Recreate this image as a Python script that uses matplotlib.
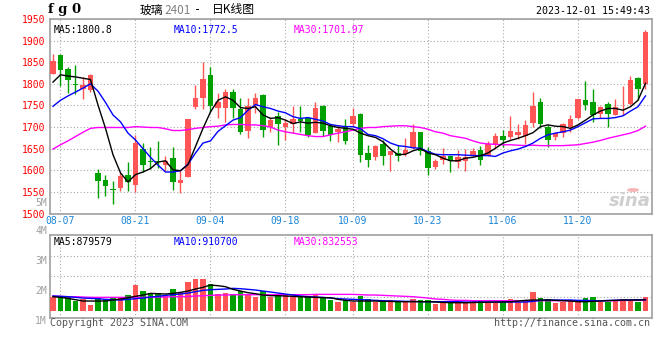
import numpy as np
import matplotlib
matplotlib.use('Agg')
import matplotlib.pyplot as plt
from matplotlib.patches import Circle

# daily candles, FG2401, 2023-08-04 .. 2023-12-01
open_ = [1823, 1867, 1835, 1800, 1789, 1785, 1594, 1577, 1557, 1558,
         1588, 1567, 1649, 1622, 1621, 1613, 1628, 1571, 1585, 1747,
         1768, 1821, 1743, 1743, 1780, 1741, 1691, 1752, 1775, 1699,
         1726, 1699, 1706, 1718, 1722, 1687, 1749, 1703, 1688, 1699,
         1708, 1731, 1640, 1630, 1660, 1636, 1640, 1638, 1651, 1688,
         1645, 1608, 1624, 1634, 1620, 1622, 1634, 1646, 1634, 1660,
         1680, 1676, 1682, 1680, 1709, 1757, 1701, 1676, 1686, 1699,
         1722, 1762, 1757, 1731, 1754, 1729, 1743, 1754, 1814, 1800]
close = [1852, 1831, 1808, 1797, 1797, 1820, 1575, 1563, 1554, 1586,
         1573, 1663, 1613, 1618, 1618, 1622, 1572, 1578, 1718, 1768,
         1812, 1748, 1757, 1781, 1743, 1688, 1749, 1768, 1693, 1716,
         1706, 1709, 1718, 1714, 1682, 1743, 1691, 1682, 1695, 1668,
         1725, 1636, 1624, 1657, 1634, 1644, 1632, 1646, 1689, 1644,
         1605, 1622, 1634, 1622, 1631, 1630, 1645, 1624, 1661, 1680,
         1670, 1691, 1689, 1705, 1749, 1706, 1670, 1686, 1706, 1718,
         1764, 1751, 1728, 1747, 1731, 1747, 1745, 1808, 1787, 1921]
high = [1868, 1868, 1840, 1844, 1816, 1823, 1603, 1590, 1575, 1594,
        1620, 1682, 1664, 1655, 1668, 1634, 1653, 1598, 1718, 1798,
        1850, 1839, 1778, 1787, 1787, 1768, 1768, 1778, 1776, 1724,
        1734, 1719, 1749, 1749, 1724, 1757, 1750, 1705, 1705, 1718,
        1745, 1732, 1659, 1659, 1670, 1645, 1659, 1674, 1706, 1688,
        1653, 1627, 1651, 1636, 1647, 1649, 1651, 1657, 1667, 1686,
        1693, 1725, 1706, 1716, 1780, 1768, 1705, 1689, 1709, 1728,
        1766, 1806, 1787, 1749, 1757, 1766, 1794, 1818, 1816, 1925]
low = [1822, 1794, 1778, 1776, 1764, 1780, 1536, 1540, 1523, 1553,
       1553, 1549, 1597, 1603, 1605, 1598, 1554, 1548, 1584, 1741,
       1741, 1735, 1722, 1712, 1722, 1683, 1674, 1732, 1678, 1688,
       1659, 1670, 1686, 1689, 1676, 1686, 1680, 1668, 1666, 1661,
       1701, 1619, 1608, 1623, 1613, 1598, 1621, 1632, 1650, 1636,
       1590, 1603, 1615, 1596, 1605, 1599, 1632, 1613, 1634, 1649,
       1655, 1673, 1673, 1660, 1701, 1697, 1655, 1670, 1676, 1689,
       1718, 1739, 1711, 1720, 1701, 1728, 1728, 1751, 1762, 1789]

ma5 = [1804, 1821, 1818, 1816, 1813, 1810, 1751, 1697, 1636, 1594,
       1573, 1590, 1596, 1604, 1619, 1622, 1601, 1599, 1613, 1655,
       1697, 1735, 1762, 1770, 1762, 1745, 1743, 1747, 1728, 1720,
       1722, 1716, 1708, 1712, 1709, 1711, 1709, 1703, 1699, 1697,
       1695, 1686, 1680, 1676, 1666, 1649, 1636, 1637, 1645, 1650,
       1640, 1636, 1628, 1622, 1622, 1628, 1630, 1634, 1640, 1651,
       1663, 1669, 1674, 1680, 1687, 1701, 1705, 1702, 1701, 1697,
       1705, 1716, 1728, 1737, 1743, 1743, 1739, 1747, 1762, 1801]
ma10 = [1748, 1762, 1772, 1781, 1790, 1800, 1783, 1757, 1728, 1712,
        1686, 1670, 1650, 1630, 1612, 1596, 1596, 1599, 1614, 1640,
        1663, 1668, 1690, 1703, 1716, 1722, 1739, 1752, 1747, 1743,
        1737, 1733, 1724, 1720, 1722, 1718, 1714, 1706, 1703, 1701,
        1701, 1696, 1683, 1680, 1673, 1663, 1657, 1655, 1652, 1651,
        1643, 1637, 1636, 1636, 1636, 1635, 1634, 1634, 1634, 1632,
        1640, 1645, 1649, 1655, 1663, 1674, 1682, 1686, 1689, 1693,
        1701, 1710, 1719, 1720, 1720, 1722, 1726, 1737, 1747, 1772]
ma30 = [1649, 1659, 1668, 1678, 1688, 1697, 1699, 1699, 1699, 1699,
        1699, 1701, 1700, 1699, 1699, 1696, 1692, 1692, 1694, 1697,
        1699, 1701, 1702, 1705, 1706, 1706, 1705, 1705, 1703, 1700,
        1693, 1689, 1686, 1683, 1680, 1678, 1678, 1682, 1686, 1689,
        1693, 1697, 1699, 1699, 1701, 1702, 1703, 1703, 1701, 1699,
        1695, 1689, 1686, 1680, 1677, 1674, 1668, 1663, 1661, 1660,
        1659, 1659, 1658, 1657, 1658, 1657, 1657, 1657, 1657, 1658,
        1659, 1662, 1665, 1669, 1674, 1678, 1682, 1686, 1692, 1702]

# volume, thousands of lots
volume = [1134, 1080, 1134, 810, 945, 459, 999, 918, 999, 1080,
          1269, 2079, 1593, 1404, 1404, 1188, 1755, 1539, 2322, 2565,
          2565, 2160, 1323, 1458, 1350, 1593, 1350, 1134, 1593, 1134,
          1269, 1242, 1080, 1188, 1188, 1350, 1080, 864, 729, 864,
          729, 1188, 918, 729, 783, 864, 729, 729, 945, 864,
          864, 540, 594, 648, 594, 729, 810, 864, 729, 594,
          729, 945, 729, 864, 1539, 999, 918, 648, 729, 783,
          729, 1053, 1134, 729, 729, 783, 945, 864, 729, 1080]
vma5 = [1134, 1080, 999, 891, 783, 783, 783, 783, 864, 945,
        1053, 1161, 1269, 1404, 1377, 1350, 1404, 1485, 1593, 1755,
        1890, 2079, 2025, 1944, 1728, 1593, 1458, 1377, 1269, 1215,
        1215, 1188, 1161, 1134, 1107, 1080, 1053, 1053, 918, 837,
        783, 783, 783, 783, 756, 756, 729, 729, 729, 729,
        729, 702, 675, 648, 648, 640, 660, 680, 690, 700,
        710, 729, 783, 837, 864, 864, 864, 837, 810, 783,
        729, 729, 756, 783, 810, 837, 864, 864, 864, 880]
vma10 = [1188, 1161, 1134, 1080, 1026, 999, 972, 918, 891, 864,
         918, 972, 1026, 1107, 1161, 1242, 1296, 1350, 1431, 1539,
         1647, 1701, 1728, 1755, 1809, 1782, 1728, 1674, 1593, 1512,
         1431, 1350, 1269, 1188, 1134, 1107, 1080, 1026, 972, 945,
         918, 891, 864, 837, 810, 783, 783, 756, 756, 729,
         729, 729, 729, 729, 729, 702, 702, 702, 702, 702,
         702, 702, 702, 702, 756, 837, 864, 864, 864, 864,
         837, 837, 810, 810, 830, 850, 860, 870, 880, 911]
vma30 = [1188, 1161, 1134, 1134, 1107, 1080, 1080, 1080, 1080, 1080,
         1080, 1080, 1080, 1080, 1107, 1107, 1134, 1134, 1161, 1188,
         1215, 1242, 1269, 1269, 1296, 1296, 1296, 1296, 1296, 1296,
         1296, 1296, 1296, 1296, 1296, 1323, 1323, 1323, 1323, 1323,
         1323, 1296, 1269, 1269, 1242, 1215, 1188, 1161, 1134, 1080,
         1026, 945, 918, 864, 837, 837, 810, 810, 810, 810,
         810, 810, 810, 810, 810, 810, 810, 810, 810, 810,
         810, 810, 810, 810, 810, 810, 837, 837, 837, 833]

date_idx = [1, 11, 21, 31, 40, 50, 60, 70]
date_labels = ['08-07', '08-21', '09-04', '09-18', '10-09', '10-23', '11-06', '11-20']
price_ticks = [1500, 1550, 1600, 1650, 1700, 1750, 1800, 1850, 1900, 1950]
vol_labels = ['5M', '4M', '3M', '2M', '1M']

RED = '#ff5555'
GREEN = '#00a000'
GRID = '#a8a8a8'
FRAME = '#a0a0a0'
MONO = 'DejaVu Sans Mono'
CJK = ['Noto Sans CJK SC', 'DejaVu Sans']
FS = 7

W, H = 660, 360


def fx(px):
    return px / W


def fy(py):
    return 1 - py / H


def style_axes(ax):
    for s in ax.spines.values():
        s.set_color(FRAME)
        s.set_linewidth(1.2)
    ax.grid(True, color=GRID, linestyle=(0, (1, 2)), linewidth=0.8)
    ax.set_axisbelow(True)
    ax.tick_params(length=0)


def main():
    o = np.array(open_)
    c = np.array(close)
    hi = np.array(high)
    lo = np.array(low)
    x = np.arange(len(c))
    up = c >= o
    colors = np.where(up, RED, GREEN)

    fig = plt.figure(figsize=(W / 100, H / 100), dpi=100)

    # price panel
    ax = fig.add_axes([fx(50), fy(213.5), fx(602), 194.5 / H])
    style_axes(ax)
    ax.vlines(x, lo, hi, colors=colors, linewidth=1.0, zorder=2)
    body_lo = np.minimum(o, c)
    body_h = np.maximum(np.abs(c - o), 1.5)
    ax.bar(x, body_h, bottom=body_lo, width=0.76, color=colors, linewidth=0, zorder=3)
    ax.plot(x, ma30, color='#ff00ff', linewidth=1.0, zorder=4)
    ax.plot(x, ma10, color='#0000ff', linewidth=1.0, zorder=4)
    ax.plot(x, ma5, color='black', linewidth=1.0, zorder=5)
    ax.set_xlim(-0.4, 79.87)
    ax.set_ylim(1500, 1950)
    ax.set_yticks(price_ticks)
    ax.set_yticklabels([str(v) for v in price_ticks], color='#ff0000',
                       family=MONO, fontsize=FS)
    ax.tick_params(axis='y', pad=3)
    ax.set_xticks(date_idx)
    ax.set_xticklabels(date_labels, color='#1a86d8', family=MONO, fontsize=FS)
    ax.tick_params(axis='x', pad=2)

    ax.text(4 / 602, 0.97, 'MA5:%.1f' % 1800.8, transform=ax.transAxes,
            family=MONO, fontsize=FS, color='black', va='top', ha='left')
    ax.text(124 / 602, 0.97, 'MA10:%.1f' % 1772.5, transform=ax.transAxes,
            family=MONO, fontsize=FS, color='#0000ff', va='top', ha='left')
    ax.text(244 / 602, 0.97, 'MA30:%.2f' % 1701.97, transform=ax.transAxes,
            family=MONO, fontsize=FS, color='#ff00ff', va='top', ha='left')

    # sina watermark
    ax.add_patch(Circle(((633 - 50) / 602, (213.5 - 190) / 194.5), 0.010,
                        transform=ax.transAxes, facecolor='#f6b5b5',
                        edgecolor='none', zorder=1))
    ax.text(0.998, 0.02, 'sina', transform=ax.transAxes, ha='right', va='bottom',
            fontsize=13, fontweight='bold', style='italic', color='#cfcfcf', zorder=1)

    # volume panel
    vx = fig.add_axes([fx(50), fy(318.3), fx(602), (318.3 - 234.7) / H])
    style_axes(vx)
    vx.bar(x, volume, width=0.76, color=colors, linewidth=0, zorder=3)
    vx.plot(x, vma30, color='#ff00ff', linewidth=1.0, zorder=4)
    vx.plot(x, vma10, color='#0000ff', linewidth=1.0, zorder=4)
    vx.plot(x, vma5, color='black', linewidth=1.0, zorder=5)
    vx.set_xlim(-0.4, 79.87)
    vlo, vhi = -616, 6156
    vx.set_ylim(vlo, vhi)
    vx.set_yticks(np.linspace(vlo, vhi, 5)[1:-1])
    vx.set_yticklabels([])
    vx.set_xticks(date_idx)
    vx.set_xticklabels([])

    vx.text(4 / 602, 0.97, 'MA5:879579', transform=vx.transAxes, family=MONO,
            fontsize=FS, color='black', va='top', ha='left')
    vx.text(124 / 602, 0.97, 'MA10:910700', transform=vx.transAxes, family=MONO,
            fontsize=FS, color='#0000ff', va='top', ha='left')
    vx.text(244 / 602, 0.97, 'MA30:832553', transform=vx.transAxes, family=MONO,
            fontsize=FS, color='#ff00ff', va='top', ha='left')

    for lab, py in zip(vol_labels, [203, 230.7, 260.7, 290.7, 320.7]):
        fig.text(fx(47), fy(py), lab, ha='right', va='center', family=MONO,
                 fontsize=FS, color='#a0a0a0')

    # header
    fig.text(fx(48), fy(10), 'f g 0', ha='left', va='center', family='DejaVu Serif',
             fontweight='bold', fontsize=9.5, color='black')
    fig.text(fx(140), fy(10), '玻璃', ha='left', va='center', family=CJK,
             fontsize=8.5, color='black')
    fig.text(fx(164), fy(10), '2401', ha='left', va='center', family=CJK,
             fontsize=8.5, color='#808080')
    fig.text(fx(198), fy(10), '-', ha='center', va='center', family=MONO,
             fontsize=8.5, color='black')
    fig.text(fx(212), fy(10), '日K线图', ha='left', va='center', family=CJK,
             fontsize=8.5, color='black')
    fig.text(fx(650), fy(11), '2023-12-01 15:49:43', ha='right', va='center',
             family=MONO, fontsize=FS + 0.2, color='black')

    # footer
    fig.text(fx(50), fy(323), 'Copyright 2023 SINA.COM', ha='left', va='center',
             family=MONO, fontsize=FS + 0.2, color='#555555')
    fig.text(fx(650), fy(323), 'http://finance.sina.com.cn', ha='right', va='center',
             family=MONO, fontsize=FS + 0.2, color='#555555')

    fig.savefig('out.png', dpi=100, facecolor='white')


if __name__ == '__main__':
    main()
